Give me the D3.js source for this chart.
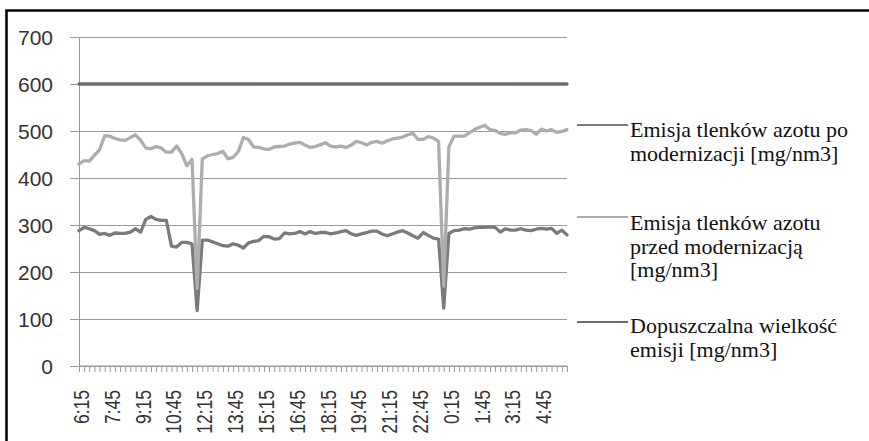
<!DOCTYPE html>
<html><head><meta charset="utf-8">
<script src="https://cdn.jsdelivr.net/npm/d3@7"></script>
<style>body{margin:0;background:#fff}</style>
</head><body>
<svg id="c" width="869" height="441"></svg>
<script>
// categories: 15-minute readings from 6:15 to 6:00 next day
const times = [];
for (let k = 0; k < 96; k++) { const m = (6*60 + 15 + k*15) % (24*60); times.push(Math.floor(m/60) + ":" + String(m%60).padStart(2,"0")); }
const tickLabels = ["6:15","7:45","9:15","10:45","12:15","13:45","15:15","16:45","18:15","19:45","21:15","22:45","0:15","1:45","3:15","4:45"];
const yTicks = [0,100,200,300,400,500,600,700];

const poModernizacji = [288,295,292,288,280,282,278,283,282,282,285,292,285,312,318,312,310,310,255,253,
 263,263,260,118,268,268,264,260,256,255,260,257,251,262,265,267,276,275,270,271,
 283,281,282,286,281,286,282,284,284,281,283,286,288,281,278,281,284,287,287,281,
 277,281,285,288,283,277,272,284,278,272,270,123,282,288,289,292,291,294,295,295,
 296,295,285,292,289,289,292,289,288,291,293,291,293,282,289,279];
const przedModernizacja = [430,437,436,448,460,490,489,484,481,480,486,492,480,464,462,467,464,455,455,468,
 452,426,440,165,440,447,450,452,457,441,444,456,486,482,466,465,462,461,466,467,
 468,472,474,476,470,465,467,471,475,468,466,468,465,470,478,475,470,476,478,474,
 479,483,485,487,492,495,482,482,488,485,478,170,466,489,489,489,496,503,508,512,
 503,501,495,493,496,496,502,503,501,493,504,500,503,497,499,503];
const dopuszczalna = times.map(() => 600);

const seriesNames = [
  ["Emisja tlenków azotu po", "modernizacji [mg/nm3]"],
  ["Emisja tlenków azotu", "przed modernizacją", "[mg/nm3]"],
  ["Dopuszczalna wielkość", "emisji [mg/nm3]"]
];
const seriesData = [poModernizacji, przedModernizacja, dopuszczalna];
const colors = ["#7a7a7a", "#adadad", "#6c6c6c"];

const svg = d3.select("#c");
// frame
svg.append("rect").attr("x",6.5).attr("y",10.5).attr("width",920).attr("height",520)
  .attr("fill","none").attr("stroke","#000").attr("stroke-width",2.5);

const L = 79, R = 567, T = 37, B = 366;
const x = d3.scalePoint().domain(times).range([L, R]);
const y = d3.scaleLinear().domain([0,700]).range([B, T]);

// gridlines
svg.append("g").selectAll("line").data(yTicks).join("line")
  .attr("x1", L - 9).attr("x2", R).attr("y1", d => y(d)).attr("y2", d => y(d))
  .attr("stroke", "#9a9a9a").attr("stroke-width", 1).attr("shape-rendering","crispEdges");
// y axis line
svg.append("line").attr("x1",L).attr("x2",L).attr("y1",T).attr("y2",B)
  .attr("stroke","#9a9a9a").attr("shape-rendering","crispEdges");
// y labels
svg.append("g").selectAll("text").data(yTicks).join("text")
  .attr("x", 53).attr("y", d => y(d)).attr("dy","0.36em").attr("text-anchor","end")
  .attr("font-family","Liberation Sans, Arial, sans-serif").attr("font-size",21).attr("fill","#333")
  .text(d => d);

// x ticks
const xAxis = d3.axisBottom(x).tickSize(6).tickFormat("");
const gx = svg.append("g").attr("transform",`translate(0,${B})`).call(xAxis);
gx.select(".domain").attr("stroke","#9a9a9a").attr("d", `M${L},0H${R}`);
gx.selectAll(".tick line").attr("stroke","#9a9a9a");

// x labels
svg.append("g").selectAll("text").data(tickLabels).join("text")
  .attr("transform", d => `translate(${x(d) + 10},390) rotate(-90) scale(1,1.25)`)
  .attr("text-anchor","end")
  .attr("font-family","Liberation Sans, Arial, sans-serif").attr("font-size",17.5).attr("fill","#333")
  .text(d => d);

// lines
const line = d3.line().x((d,i) => x(times[i])).y(d => y(d));
seriesData.forEach((s, k) => {
  svg.append("path").datum(s).attr("d", line).attr("fill","none")
    .attr("stroke", colors[k]).attr("stroke-width", 3.3)
    .attr("stroke-linejoin","round").attr("stroke-linecap","round");
});

// legend
const legY = [125, 217, 322];
const legBase = [137, 230, 333];
seriesNames.forEach((lines, k) => {
  svg.append("line").attr("x1",577).attr("x2",628).attr("y1",legY[k]).attr("y2",legY[k])
    .attr("stroke",colors[k]).attr("stroke-width",2);
  const t = svg.append("text").attr("font-family","Liberation Serif, Times New Roman, serif")
    .attr("font-size",22).attr("fill","#111");
  lines.forEach((ln, j) => t.append("tspan").attr("x",630).attr("y",legBase[k] + j*23.5).text(ln));
});
</script>
</body></html>
